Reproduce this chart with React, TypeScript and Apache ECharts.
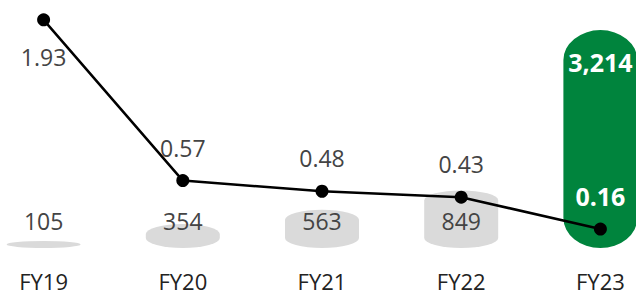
import React, { useEffect, useRef } from "react";
import * as echarts from "echarts";

const categories = ["FY19", "FY20", "FY21", "FY22", "FY23"];
const barValues = [105, 354, 563, 849, 3214];
const lineValues = [1.93, 0.57, 0.48, 0.43, 0.16];

const GREY = "#dadada";
const GREEN = "#00843d";
const FONT = "'Open Sans', 'Noto Sans', sans-serif";

export default function App() {
  const ref = useRef<HTMLDivElement>(null);

  useEffect(() => {
    document.body.style.margin = "0";
    document.body.style.overflow = "hidden";
    if (!ref.current) return;
    const chart = echarts.init(ref.current, null, { renderer: "svg" });
    const last = barValues.length - 1;

    const option: any = {
      animation: false,
      grid: {
        left: 0,
        right: 0,
        top: 8,
        bottom: 42,
        containLabel: false,
        outerBoundsMode: "none",
      },
      xAxis: {
        type: "category",
        data: categories,
        axisLine: { show: false },
        axisTick: { show: false },
        axisLabel: {
          color: "#222222",
          fontSize: 22,
          fontFamily: FONT,
          margin: 22,
        },
      },
      yAxis: [
        { type: "value", min: 0, max: 3540, show: false },
        { type: "value", min: 0, max: 2.03, show: false },
      ],
      series: [
        {
          type: "custom",
          yAxisIndex: 0,
          z: 1,
          data: barValues.map((v, i) => [i, v]),
          encode: { x: 0, y: 1 },
          renderItem: (params: any, api: any) => {
            const idx = params.dataIndex;
            const xi = api.value(0);
            const v = api.value(1);
            const base = api.coord([xi, 0]);
            const top = api.coord([xi, v]);
            const w = 74;
            const x0 = base[0] - w / 2;
            const x1 = base[0] + w / 2;
            const yb = base[1];
            const yt = top[1];
            const h = yb - yt;
            const highlight = idx === last;
            const ry = highlight ? Math.min(h / 2, 30) : Math.min(h / 2, 10);
            const rx = w / 2;
            const d =
              `M ${x0} ${yt + ry} ` +
              `A ${rx} ${ry} 0 0 1 ${x1} ${yt + ry} ` +
              `L ${x1} ${yb - ry} ` +
              `A ${rx} ${ry} 0 0 1 ${x0} ${yb - ry} Z`;
            const label = barValues[idx].toLocaleString("en-US");
            const textY = highlight ? yt + 32 : yb - 27;
            return {
              type: "group",
              children: [
                {
                  type: "path",
                  shape: { pathData: d },
                  style: { fill: highlight ? GREEN : GREY },
                },
                {
                  type: "text",
                  x: base[0],
                  y: textY,
                  z2: 10,
                  style: {
                    text: label,
                    fill: highlight ? "#ffffff" : "#444444",
                    font: `${highlight ? "bold " : ""}${highlight ? 25 : 23}px ${FONT}`,
                    align: "center",
                    verticalAlign: "middle",
                    textAlign: "center",
                    textVerticalAlign: "middle",
                  },
                },
              ],
            };
          },
        },
        {
          type: "line",
          yAxisIndex: 1,
          z: 5,
          data: lineValues.map((v, i) => {
            if (i === 0) {
              return { value: v, label: { position: "bottom", distance: 19 } };
            }
            if (i === last) {
              return {
                value: v,
                label: { color: "#ffffff", fontWeight: "bold", fontSize: 25, distance: 14 },
              };
            }
            return v;
          }),
          symbol: "circle",
          symbolSize: 13,
          itemStyle: { color: "#000000" },
          lineStyle: { color: "#000000", width: 2.5 },
          label: {
            show: true,
            position: "top",
            distance: 15,
            color: "#444444",
            fontSize: 23,
            fontFamily: FONT,
            formatter: (p: any) => Number(p.value).toFixed(2),
          },
        },
      ],
    };

    chart.setOption(option);
    return () => chart.dispose();
  }, []);

  return (
    <div
      ref={ref}
      style={{ position: "absolute", left: -26.5, top: 0, width: 695.5, height: 290 }}
    />
  );
}
